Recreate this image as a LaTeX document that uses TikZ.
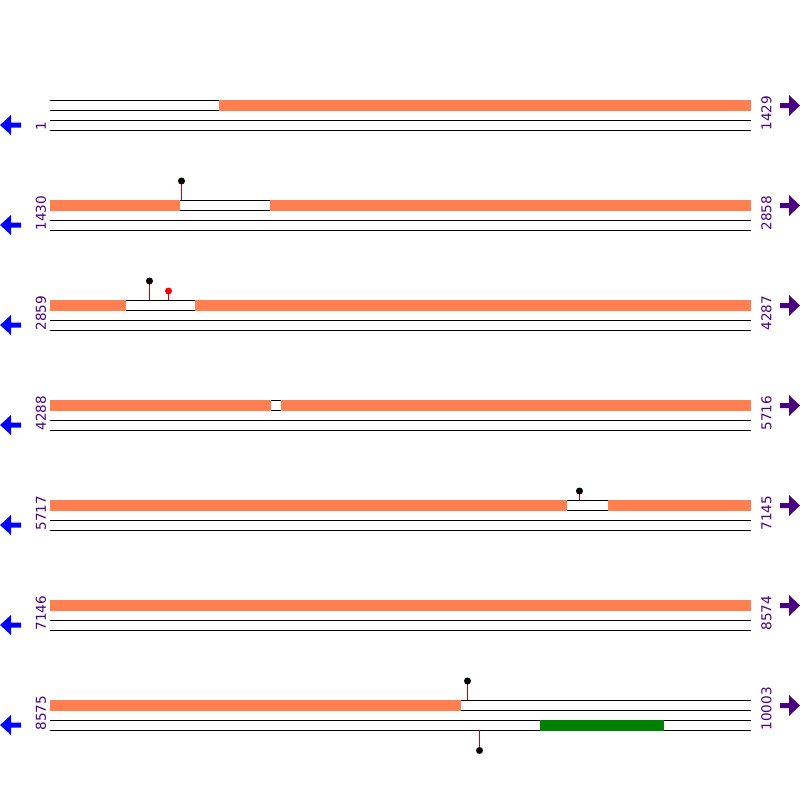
\documentclass[tikz,border=0pt]{standalone}
\usepackage{fontspec}
\setmainfont{DejaVu Sans}
\definecolor{seqorange}{HTML}{FF7F50}
\definecolor{seqgreen}{HTML}{008000}
\definecolor{labpurple}{HTML}{4B0082}
\definecolor{stemred}{HTML}{D00000}
\begin{document}
\begin{tikzpicture}[x=1pt,y=-1pt,
  strand/.style={line width=1pt, black},
  orangebar/.style={fill=seqorange, draw=none},
  greenbar/.style={fill=seqgreen, draw=none},
  stemline/.style={line width=1pt, stemred},
  headblack/.style={fill=black, draw=none},
  headred/.style={fill=red, draw=none},
  poslabel/.style={rotate=90, anchor=west, inner sep=0pt, text=labpurple, font=\fontsize{13.6}{14}\selectfont},
  leftarrow/.style={fill=blue, draw=none},
  rightarrow/.style={fill=labpurple, draw=none}]
\useasboundingbox (0,0) rectangle (800,800);
% strands and labels
\foreach \k/\l/\r in {0/1/1429, 1/1430/2858, 2/2859/4287, 3/4288/5716, 4/5717/7145, 5/7146/8574, 6/8575/10003}{
  \pgfmathsetmacro{\yy}{100+100*\k}
  \draw[strand] (50,\yy) -- (751,\yy);
  \draw[strand] (50,\yy+10) -- (751,\yy+10);
  \draw[strand] (50,\yy+20) -- (751,\yy+20);
  \draw[strand] (50,\yy+30) -- (751,\yy+30);
  \node[poslabel] (left\k) at (41,\yy+30.5) {\l};
  \node[poslabel] (right\k) at (766.5,\yy+30.5) {\r};
  \fill[leftarrow] (0,\yy+25) -- (11,\yy+15) -- (11,\yy+22.5) -- (21,\yy+22.5) -- (21,\yy+27.5) -- (11,\yy+27.5) -- (11,\yy+35) -- cycle;
  \fill[rightarrow] (800,\yy+5.5) -- (789,\yy-5) -- (789,\yy+3) -- (780,\yy+3) -- (780,\yy+8) -- (789,\yy+8) -- (789,\yy+16) -- cycle;
}
% orange segments on top strand
\foreach \yy/\a/\b in {100/219/751,
  200/50/180, 200/270/751,
  300/50/126, 300/195/751,
  400/50/270.5, 400/281/751,
  500/50/567, 500/608/751,
  600/50/751,
  700/50/461}{
  \fill[orangebar] (\a,\yy-0.5) rectangle (\b,\yy+10.5);
}
% green segment on bottom strand
\fill[greenbar] (540,719.5) rectangle (664,730.5);
% lollipops
\draw[stemline] (181.5,200) -- (181.5,181);
\fill[headblack] (181.5,181) circle (3.5);
\draw[stemline] (149.5,300) -- (149.5,281);
\fill[headblack] (149.5,281) circle (3.5);
\draw[stemline] (168.5,300) -- (168.5,291);
\fill[headred] (168.5,291) circle (3.5);
\draw[stemline] (579.5,500) -- (579.5,491);
\fill[headblack] (579.5,491) circle (3.5);
\draw[stemline] (467.5,700) -- (467.5,681);
\fill[headblack] (467.5,681) circle (3.5);
\draw[stemline] (479.5,730) -- (479.5,750.5);
\fill[headblack] (479.5,750.5) circle (3.5);
\end{tikzpicture}
\end{document}
